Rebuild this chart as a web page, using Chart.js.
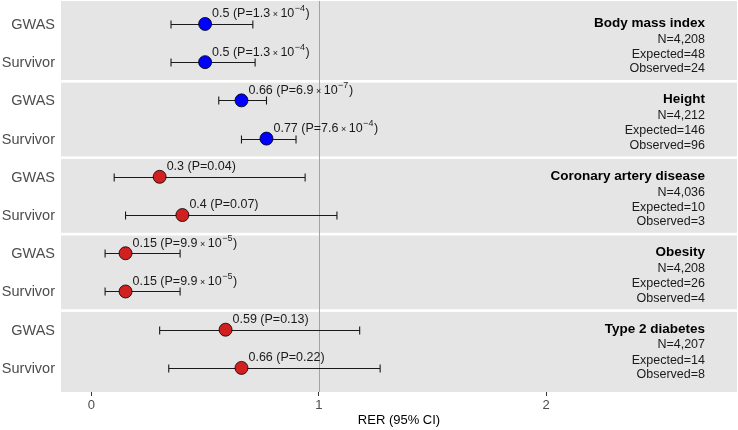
<!DOCTYPE html>
<html>
<head>
<meta charset="utf-8">
<script src="https://cdn.jsdelivr.net/npm/chart.js@4"></script>
<style>
  body { margin: 0; background: #fff; }
  #wrap { width: 738px; height: 430px; }
</style>
</head>
<body>
<div id="wrap"><canvas id="forest" width="738" height="430"></canvas></div>
<script>
// ---- data ----
var traits = ["Body mass index", "Height", "Coronary artery disease", "Obesity", "Type 2 diabetes"];
var traitKind = ["quantitative", "quantitative", "disease", "disease", "disease"];
var nText = ["N=4,208", "N=4,212", "N=4,036", "N=4,208", "N=4,207"];
var expectedN = [48, 146, 10, 26, 14];
var observedN = [24, 96, 3, 4, 8];
var groups = ["GWAS", "Survivor"];

var rerGwas = [0.5, 0.66, 0.3, 0.15, 0.59];
var lowGwas = [0.35, 0.56, 0.10, 0.06, 0.30];
var highGwas = [0.71, 0.77, 0.94, 0.39, 1.18];
var pGwas = [["1.3", -4], ["6.9", -7], ["0.04"], ["9.9", -5], ["0.13"]];

var rerSurv = [0.5, 0.77, 0.4, 0.15, 0.66];
var lowSurv = [0.35, 0.66, 0.15, 0.06, 0.34];
var highSurv = [0.72, 0.90, 1.08, 0.39, 1.27];
var pSurv = [["1.3", -4], ["7.6", -4], ["0.07"], ["9.9", -5], ["0.22"]];

var xTicks = [0, 1, 2];
var refLine = 1;

// ---- y layout: each trait is a band two units tall, one unit per row ----
var bandH = 2, halfGap = 0.035;
var yMin = -0.1, yMax = traits.length * bandH + 0.13;

var colorOf = { quantitative: "#0000ff", disease: "#d21f1f" };
var font = "Arial, 'Liberation Sans', sans-serif";

var points = [], pointColors = [], bars = [];
traits.forEach(function (t, i) {
  var rows = [
    { est: rerGwas[i], lo: lowGwas[i], hi: highGwas[i], p: pGwas[i] },
    { est: rerSurv[i], lo: lowSurv[i], hi: highSurv[i], p: pSurv[i] }
  ];
  rows.forEach(function (r, g) {
    var y = i * bandH + 0.5 + g;
    points.push({ x: r.est, y: y });
    pointColors.push(colorOf[traitKind[i]]);
    bars.push({ lo: r.lo, hi: r.hi, y: y, est: r.est, p: r.p, group: groups[g] });
  });
});

var facetPlugin = {
  id: "facets",
  beforeDatasetsDraw: function (chart) {
    var ctx = chart.ctx, xs = chart.scales.x, ys = chart.scales.y, a = chart.chartArea;
    ctx.save();
    // panel backgrounds
    ctx.fillStyle = "#e5e5e5";
    traits.forEach(function (t, i) {
      var top = i === 0 ? a.top : ys.getPixelForValue(i * bandH + halfGap);
      var bot = i === traits.length - 1 ? a.bottom : ys.getPixelForValue((i + 1) * bandH - halfGap);
      ctx.fillRect(a.left, top, a.right - a.left, bot - top);
    });
    // reference line
    var xr = Math.round(xs.getPixelForValue(refLine)) + 0.5;
    ctx.strokeStyle = "#a3a3a3";
    ctx.lineWidth = 1;
    ctx.beginPath();
    ctx.moveTo(xr, a.top);
    ctx.lineTo(xr, a.bottom);
    ctx.stroke();
    // error bars
    ctx.strokeStyle = "#1a1a1a";
    ctx.lineWidth = 1.1;
    bars.forEach(function (b) {
      var y = Math.round(ys.getPixelForValue(b.y)) + 0.5;
      var x0 = xs.getPixelForValue(b.lo), x1 = xs.getPixelForValue(b.hi);
      ctx.beginPath();
      ctx.moveTo(x0, y); ctx.lineTo(x1, y);
      ctx.moveTo(x0, y - 4); ctx.lineTo(x0, y + 4);
      ctx.moveTo(x1, y - 4); ctx.lineTo(x1, y + 4);
      ctx.stroke();
    });
    // row labels on the left
    ctx.fillStyle = "#4d4d4d";
    ctx.font = "14.5px " + font;
    ctx.textAlign = "right";
    ctx.textBaseline = "middle";
    bars.forEach(function (b) {
      ctx.fillText(b.group, a.left - 6, ys.getPixelForValue(b.y) + 1);
    });
    ctx.restore();
  },
  afterDatasetsDraw: function (chart) {
    var ctx = chart.ctx, xs = chart.scales.x, ys = chart.scales.y, a = chart.chartArea;
    ctx.save();
    ctx.fillStyle = "#1a1a1a";
    ctx.textBaseline = "middle";
    ctx.textAlign = "left";
    // estimate labels
    bars.forEach(function (b) {
      var x = xs.getPixelForValue(b.est) + 7;
      var y = ys.getPixelForValue(b.y) - 10;
      var big = "12.5px " + font, small = "9px " + font;
      ctx.font = big;
      var s = b.est + " (P=" + b.p[0];
      ctx.fillText(s, x, y); x += ctx.measureText(s).width;
      if (b.p.length > 1) {
        ctx.font = small;
        s = " \u00d7 ";
        ctx.fillText(s, x, y + 1); x += ctx.measureText(s).width;
        ctx.font = big;
        ctx.fillText("10", x, y); x += ctx.measureText("10").width;
        ctx.font = small;
        s = "\u2212" + Math.abs(b.p[1]);
        ctx.fillText(s, x + 0.5, y - 5); x += ctx.measureText(s).width + 1;
        ctx.font = big;
      }
      ctx.fillText(")", x, y);
    });
    // facet annotations on the right
    ctx.textAlign = "right";
    var xr = a.right - 32;
    traits.forEach(function (t, i) {
      var top = i * bandH + 0.05;
      ctx.fillStyle = "#000";
      ctx.font = "bold 13.5px " + font;
      ctx.fillText(t, xr, ys.getPixelForValue(top + 0.43));
      ctx.font = "12.5px " + font;
      ctx.fillStyle = "#1a1a1a";
      ctx.fillText(nText[i], xr, ys.getPixelForValue(top + 0.85));
      ctx.fillText("Expected=" + expectedN[i], xr, ys.getPixelForValue(top + 1.25));
      ctx.fillText("Observed=" + observedN[i], xr, ys.getPixelForValue(top + 1.63));
    });
    ctx.restore();
  }
};

var chart = new Chart(document.getElementById("forest").getContext("2d"), {
  type: "scatter",
  data: {
    datasets: [{
      data: points,
      pointBackgroundColor: pointColors,
      pointBorderColor: "#000",
      pointBorderWidth: 0.8,
      pointRadius: 6.5,
      pointHoverRadius: 6.5
    }]
  },
  options: {
    responsive: false,
    animation: false,
    devicePixelRatio: 1,
    layout: { autoPadding: false, padding: { left: 61, top: 1, right: 1, bottom: 0 } },
    plugins: { legend: { display: false }, tooltip: { enabled: false } },
    scales: {
      x: {
        type: "linear",
        min: -0.134,
        max: 2.84,
        afterBuildTicks: function (scale) {
          scale.ticks = xTicks.map(function (v) { return { value: v }; });
        },
        afterFit: function (scale) { scale.height = 38; },
        grid: { drawOnChartArea: false, drawTicks: true, tickLength: 4, color: "#333" },
        border: { display: false },
        ticks: {
          color: "#4d4d4d",
          font: { size: 13, family: font },
          padding: 2,
          callback: function (v) { return v; }
        },
        title: {
          display: true,
          text: "RER (95% CI)",
          color: "#000",
          font: { size: 13, family: font },
          padding: { top: 0, bottom: 2 }
        }
      },
      y: {
        type: "linear",
        reverse: true,
        min: yMin,
        max: yMax,
        display: false
      }
    }
  },
  plugins: [facetPlugin]
});
</script>
</body>
</html>
